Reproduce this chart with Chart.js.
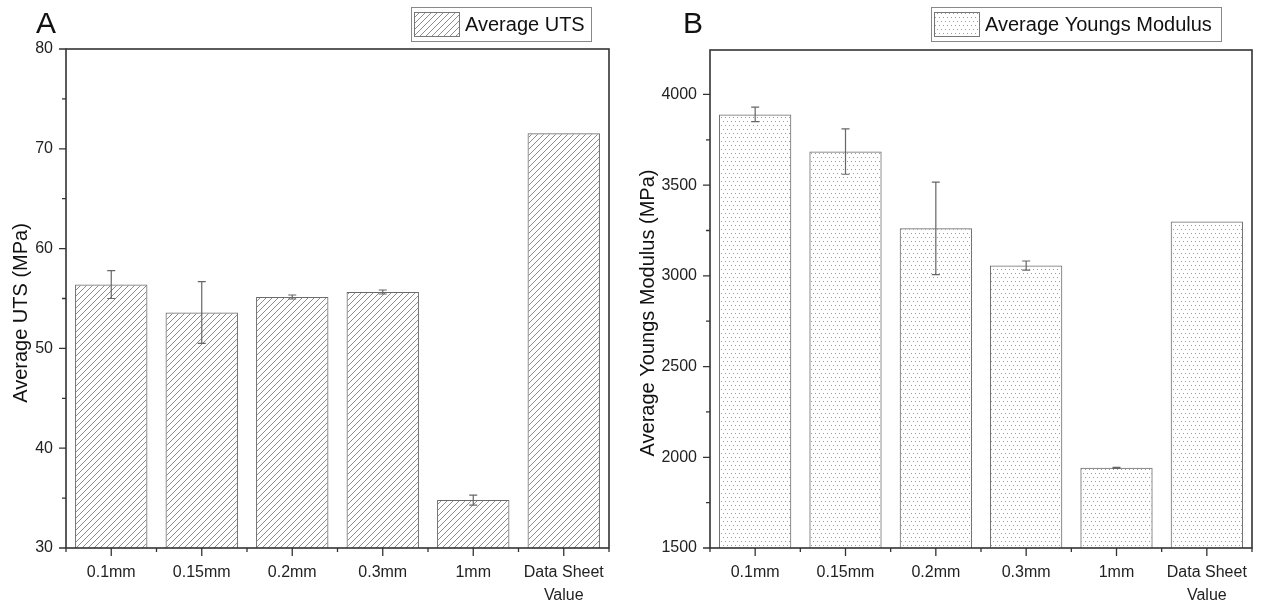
<!DOCTYPE html>
<html>
<head>
<meta charset="utf-8">
<script src="https://cdn.jsdelivr.net/npm/chart.js@4.4.0/dist/chart.umd.min.js"></script>
<style>
    html, body { margin: 0; padding: 0; background: #fff; }
    #wrap { position: relative; width: 1263px; height: 608px; }
    .panel { position: absolute; top: 0; height: 608px; }
    #panelA { left: 0; width: 630px; }
    #panelB { left: 630px; width: 633px; }
</style>
</head>
<body>
<div id="wrap">
    <div class="panel" id="panelA"><canvas id="chartA" width="630" height="608"></canvas></div>
    <div class="panel" id="panelB"><canvas id="chartB" width="633" height="608"></canvas></div>
</div>
<script>
// data
const categories = ['0.1mm', '0.15mm', '0.2mm', '0.3mm', '1mm', ['Data Sheet', 'Value']];

const utsValues = [56.4, 53.6, 55.15, 55.65, 34.8, 71.55];
const utsErrors = [1.4, 3.1, 0.2, 0.2, 0.5, 0];
const utsTicks = [30, 40, 50, 60, 70, 80];

const modulusValues = [3890, 3685, 3262, 3057, 1942, 3300];
const modulusErrors = [40, 125, 255, 25, 3, 0];
const modulusTicks = [1500, 2000, 2500, 3000, 3500, 4000];

const FONT = 'Arial, "Liberation Sans", Helvetica, sans-serif';
const AXIS = '#333';
const BAR_EDGE = '#6b6b6b';

// fill patterns for the bars
function hatchPattern(ctx) {
    const tile = document.createElement('canvas');
    tile.width = 6;
    tile.height = 6;
    const g = tile.getContext('2d');
    g.strokeStyle = '#808080';
    g.lineWidth = 0.9;
    g.beginPath();
    g.moveTo(0, 6); g.lineTo(6, 0);
    g.moveTo(-1, 1); g.lineTo(1, -1);
    g.moveTo(5, 7); g.lineTo(7, 5);
    g.stroke();
    return ctx.createPattern(tile, 'repeat');
}

function dotPattern(ctx) {
    const tile = document.createElement('canvas');
    tile.width = 8;
    tile.height = 8;
    const g = tile.getContext('2d');
    g.fillStyle = '#9c9c9c';
    g.fillRect(1, 1, 1, 1);
    g.fillRect(5, 1, 1, 1);
    g.fillRect(3, 5, 1, 1);
    g.fillRect(7, 5, 1, 1);
    return ctx.createPattern(tile, 'repeat');
}

// error bars, box frame, ticks, axis title, legend and panel letter
const decorations = {
    id: 'decorations',
    afterDatasetsDraw(chart, args, opts) {
        const { ctx, scales: { y } } = chart;
        const meta = chart.getDatasetMeta(0);
        const values = chart.data.datasets[0].data;
        ctx.save();
        ctx.strokeStyle = '#666';
        ctx.lineWidth = 1.2;
        ctx.beginPath();
        meta.data.forEach((bar, i) => {
            const err = opts.errors[i];
            if (!err) return;
            const top = y.getPixelForValue(values[i] + err);
            const bot = y.getPixelForValue(values[i] - err);
            ctx.moveTo(bar.x, top); ctx.lineTo(bar.x, bot);
            ctx.moveTo(bar.x - 4, top); ctx.lineTo(bar.x + 4, top);
            ctx.moveTo(bar.x - 4, bot); ctx.lineTo(bar.x + 4, bot);
        });
        ctx.stroke();
        ctx.restore();
    },
    afterDraw(chart, args, opts) {
        const { ctx, chartArea: a, scales: { x, y } } = chart;
        ctx.save();

        // full box round the plot
        ctx.strokeStyle = AXIS;
        ctx.lineWidth = 1.6;
        ctx.strokeRect(a.left, a.top, a.right - a.left, a.bottom - a.top);

        // ticks: major + minor on both axes
        ctx.lineWidth = 1.3;
        ctx.beginPath();
        const yt = opts.yTicks;
        yt.forEach((v, i) => {
            const py = y.getPixelForValue(v);
            ctx.moveTo(a.left - 7, py); ctx.lineTo(a.left, py);
            if (i < yt.length - 1) {
                const pm = y.getPixelForValue((v + yt[i + 1]) / 2);
                ctx.moveTo(a.left - 4, pm); ctx.lineTo(a.left, pm);
            }
        });
        const n = chart.data.labels.length;
        for (let i = 0; i < n; i++) {
            const px = x.getPixelForValue(i);
            ctx.moveTo(px, a.bottom); ctx.lineTo(px, a.bottom + 8);
        }
        for (let i = 0; i <= n; i++) {
            const px = x.getPixelForValue(i - 0.5);
            ctx.moveTo(px, a.bottom); ctx.lineTo(px, a.bottom + 4);
        }
        ctx.stroke();

        // y axis title, sits a little below the middle like the original
        ctx.fillStyle = '#111';
        ctx.font = '20px ' + FONT;
        ctx.textAlign = 'center';
        ctx.textBaseline = 'middle';
        ctx.translate(opts.titleX, 313);
        ctx.rotate(-Math.PI / 2);
        ctx.fillText(opts.axisTitle, 0, 0);
        ctx.setTransform(1, 0, 0, 1, 0, 0);

        // panel letter
        ctx.textAlign = 'left';
        ctx.textBaseline = 'alphabetic';
        ctx.font = '30px ' + FONT;
        ctx.fillText(opts.letter, opts.letterX, 33);

        // legend box
        const lg = opts.legend;
        ctx.strokeStyle = '#888';
        ctx.lineWidth = 1;
        ctx.strokeRect(lg.x + 0.5, lg.y + 0.5, lg.w, lg.h);
        ctx.fillStyle = chart.data.datasets[0].backgroundColor;
        ctx.fillRect(lg.x + 3, lg.y + 5, lg.sw, lg.h - 10);
        ctx.strokeStyle = '#777';
        ctx.strokeRect(lg.x + 3.5, lg.y + 5.5, lg.sw, lg.h - 10);
        ctx.fillStyle = '#111';
        ctx.font = '20px ' + FONT;
        ctx.fillText(chart.data.datasets[0].label, lg.x + lg.sw + 9, lg.y + 24);

        ctx.restore();
    }
};

function buildChart(canvasId, cfg) {
    const canvas = document.getElementById(canvasId);
    const ctx = canvas.getContext('2d');
    return new Chart(ctx, {
        type: 'bar',
        data: {
            labels: categories,
            datasets: [{
                label: cfg.label,
                data: cfg.values,
                backgroundColor: cfg.fill(ctx),
                borderColor: BAR_EDGE,
                borderWidth: 1,
                barPercentage: 0.8,
                categoryPercentage: 1.0
            }]
        },
        options: {
            responsive: false,
            animation: false,
            devicePixelRatio: 1,
            layout: { padding: { left: 0, top: cfg.top, right: cfg.right, bottom: 0 } },
            plugins: {
                legend: { display: false },
                tooltip: { enabled: false },
                decorations: {
                    errors: cfg.errors,
                    yTicks: cfg.ticks,
                    axisTitle: cfg.axisTitle,
                    titleX: cfg.titleX,
                    letter: cfg.letter,
                    letterX: cfg.letterX,
                    legend: cfg.legendBox
                }
            },
            scales: {
                x: {
                    offset: true,
                    grid: { display: false, drawTicks: false },
                    border: { display: false },
                    ticks: {
                        color: '#222',
                        padding: 13,
                        maxRotation: 0,
                        autoSkip: false,
                        font: { family: FONT, size: 16, lineHeight: 1.45 }
                    },
                    afterFit(scale) { scale.height = 60; }
                },
                y: {
                    min: cfg.min,
                    max: cfg.max,
                    grid: { display: false, drawTicks: false },
                    border: { display: false },
                    afterBuildTicks(scale) {
                        scale.ticks = cfg.ticks.map(v => ({ value: v }));
                    },
                    ticks: {
                        color: '#222',
                        padding: 13,
                        font: { family: FONT, size: 16 },
                        callback: v => String(v)
                    },
                    afterFit(scale) { scale.width = cfg.left; }
                }
            }
        },
        plugins: [decorations]
    });
}

buildChart('chartA', {
    label: 'Average UTS',
    values: utsValues,
    errors: utsErrors,
    ticks: utsTicks,
    min: 30,
    max: 80,
    axisTitle: 'Average UTS (MPa)',
    titleX: 21,
    fill: hatchPattern,
    left: 66,
    top: 49,
    right: 21,
    letter: 'A',
    letterX: 36,
    legendBox: { x: 411, y: 7, w: 180, h: 34, sw: 45 }
});

buildChart('chartB', {
    label: 'Average Youngs Modulus',
    values: modulusValues,
    errors: modulusErrors,
    ticks: modulusTicks,
    min: 1500,
    max: 4245,
    axisTitle: 'Average Youngs Modulus (MPa)',
    titleX: 18,
    fill: dotPattern,
    left: 80,
    top: 50,
    right: 11,
    letter: 'B',
    letterX: 53,
    legendBox: { x: 301, y: 7, w: 290, h: 34, sw: 45 }
});
</script>
</body>
</html>
